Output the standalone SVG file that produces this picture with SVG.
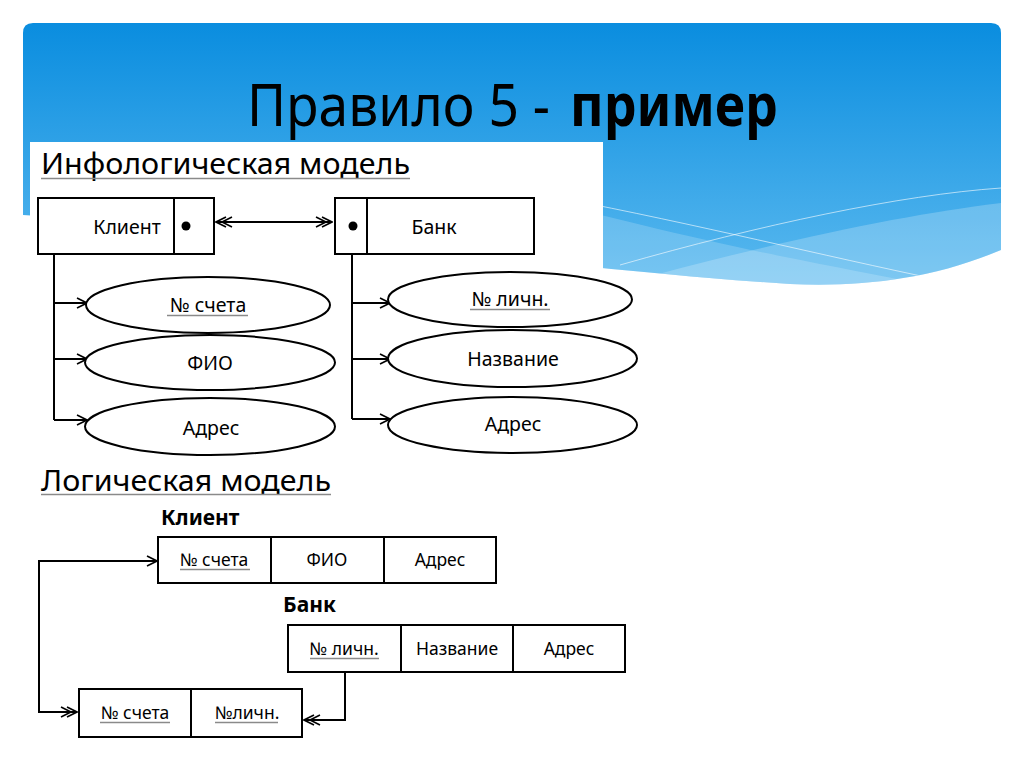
<svg xmlns="http://www.w3.org/2000/svg" width="1024" height="767" viewBox="0 0 1024 767">
<style>
.t{font-family:"Noto Sans","DejaVu Sans",sans-serif;fill:#000}
.d{font-family:"Noto Sans","DejaVu Sans",sans-serif;font-size:19.5px;fill:#000;text-anchor:middle}
.s{font-size:17.5px}
.b{font-family:"Noto Sans","DejaVu Sans",sans-serif;font-size:21px;font-weight:bold;fill:#000}
.box{fill:#fff;stroke:#000;stroke-width:2}
.ln{fill:none;stroke:#000;stroke-width:2}
.ul{stroke:#8a8a8a;stroke-width:1.3}
.el{fill:#fff;stroke:#000;stroke-width:2}
</style>
<defs>
<linearGradient id="bg" x1="0" y1="0" x2="0" y2="1">
<stop offset="0" stop-color="#0a8ddf"/>
<stop offset="1" stop-color="#5ab9ef"/>
</linearGradient>
<clipPath id="bc"><path d="M23,33 Q23,23 33,23 H991 Q1001,23 1001,33 V250 C930,280 860,287 790,284 C600,272 300,232 23,215 Z"/></clipPath>
<marker id="a1" markerUnits="userSpaceOnUse" viewBox="0 0 12 12" markerWidth="12" markerHeight="12" refX="11" refY="6" orient="auto-start-reverse">
<path d="M1,1 L11,6 L1,11" fill="none" stroke="#000" stroke-width="1.6"/>
</marker>
<marker id="a2" markerUnits="userSpaceOnUse" viewBox="0 0 18 12" markerWidth="18" markerHeight="12" refX="17" refY="6" orient="auto-start-reverse">
<path d="M1,1 L11,6 L1,11 M7,1 L17,6 L7,11" fill="none" stroke="#000" stroke-width="1.6"/>
</marker>
</defs>

<g id="background">
<rect x="0" y="0" width="1024" height="767" fill="#fff"/>
<path d="M23,33 Q23,23 33,23 H991 Q1001,23 1001,33 V250 C930,280 860,287 790,284 C600,272 300,232 23,215 Z" fill="url(#bg)"/>
<g clip-path="url(#bc)">
<path d="M500,190 C600,215 700,240 780,256 C860,272 930,285 1001,300 L1001,320 L500,320 Z" fill="#ffffff" opacity="0.18"/>
<path d="M600,290 C760,245 900,215 1001,203 L1001,320 L600,320 Z" fill="#ffffff" opacity="0.22"/>
<path d="M560,198 C700,225 820,255 940,280" fill="none" stroke="#ffffff" stroke-opacity="0.6" stroke-width="1"/>
<path d="M620,265 C760,225 900,195 1001,188" fill="none" stroke="#ffffff" stroke-opacity="0.6" stroke-width="1"/>
</g>
<rect x="30" y="142" width="573" height="200" fill="#fff"/>
</g>

<g id="title">
<text class="t" x="247" y="126" font-size="59" textLength="303" lengthAdjust="spacingAndGlyphs">Правило 5 -</text>
<text class="t" x="570" y="126" font-size="59" font-weight="bold" textLength="208" lengthAdjust="spacingAndGlyphs">пример</text>
</g>

<g id="subtitle-info">
<text class="t" x="41" y="174" font-size="29" textLength="369" lengthAdjust="spacingAndGlyphs">Инфологическая модель</text>
<line class="ul" x1="41" y1="178.5" x2="410" y2="178.5"/>
</g>

<g id="subtitle-logic">
<text class="t" x="41" y="491" font-size="29" textLength="290" lengthAdjust="spacingAndGlyphs">Логическая модель</text>
<line class="ul" x1="41" y1="494.5" x2="331" y2="494.5"/>
</g>

<g id="connectors">
<path class="ln" d="M216,222 H332" marker-start="url(#a2)" marker-end="url(#a2)"/>
<path class="ln" d="M54,254 V420"/>
<path class="ln" d="M54,303 H87" marker-end="url(#a1)"/>
<path class="ln" d="M54,359 H87" marker-end="url(#a1)"/>
<path class="ln" d="M54,420 H87" marker-end="url(#a1)"/>
<path class="ln" d="M352,254 V419"/>
<path class="ln" d="M352,303 H390" marker-end="url(#a1)"/>
<path class="ln" d="M352,359 H390" marker-end="url(#a1)"/>
<path class="ln" d="M352,419 H390" marker-end="url(#a1)"/>
<path class="ln" d="M157,561 H39 V712 H77" marker-start="url(#a1)" marker-end="url(#a2)"/>
<path class="ln" d="M345,673 V720 H304" marker-end="url(#a2)"/>
</g>

<g id="entity-client">
<rect class="box" x="38" y="198" width="176" height="56"/>
<line class="ln" x1="174" y1="198" x2="174" y2="254"/>
<circle cx="186" cy="226" r="4.5" fill="#000"/>
<text class="d" x="127" y="234">Клиент</text>
</g>

<g id="entity-bank">
<rect class="box" x="335" y="198" width="199" height="56"/>
<line class="ln" x1="367" y1="198" x2="367" y2="254"/>
<circle cx="353" cy="226" r="4.5" fill="#000"/>
<text class="d" x="434" y="234">Банк</text>
</g>

<g id="attr-client-acc">
<ellipse class="el" cx="208" cy="305" rx="122" ry="28"/>
<text class="d" x="208" y="312">№ счета</text>
<line class="ul" x1="167" y1="315.5" x2="248" y2="315.5"/>
</g>
<g id="attr-client-fio">
<ellipse class="el" cx="210" cy="362.5" rx="125" ry="27.5"/>
<text class="d" x="210" y="370">ФИО</text>
</g>
<g id="attr-client-addr">
<ellipse class="el" cx="210" cy="426.5" rx="125" ry="28.5"/>
<text class="d" x="211" y="435">Адрес</text>
</g>

<g id="attr-bank-id">
<ellipse class="el" cx="510" cy="299.5" rx="122" ry="27.5"/>
<text class="d" x="510" y="306">№ личн.</text>
<line class="ul" x1="470" y1="309.5" x2="550" y2="309.5"/>
</g>
<g id="attr-bank-name">
<ellipse class="el" cx="512.5" cy="358.5" rx="124.5" ry="28.5"/>
<text class="d" x="513" y="366">Название</text>
</g>
<g id="attr-bank-addr">
<ellipse class="el" cx="512.5" cy="425" rx="124.5" ry="28"/>
<text class="d" x="513" y="431">Адрес</text>
</g>

<g id="table-client">
<text class="b" x="161" y="525">Клиент</text>
<rect class="box" x="158" y="537" width="338" height="46"/>
<line class="ln" x1="271" y1="537" x2="271" y2="583"/>
<line class="ln" x1="384" y1="537" x2="384" y2="583"/>
<text class="d s" x="214" y="566">№ счета</text>
<line class="ul" x1="180" y1="569.5" x2="250" y2="569.5"/>
<text class="d s" x="327" y="566">ФИО</text>
<text class="d s" x="440" y="566">Адрес</text>
</g>

<g id="table-bank">
<text class="b" x="283" y="612">Банк</text>
<rect class="box" x="288" y="625" width="337" height="47"/>
<line class="ln" x1="401" y1="625" x2="401" y2="672"/>
<line class="ln" x1="513" y1="625" x2="513" y2="672"/>
<text class="d s" x="344" y="655">№ личн.</text>
<line class="ul" x1="310" y1="658.5" x2="379" y2="658.5"/>
<text class="d s" x="457" y="655">Название</text>
<text class="d s" x="569" y="655">Адрес</text>
</g>

<g id="table-link">
<rect class="box" x="79" y="689" width="223" height="48"/>
<line class="ln" x1="191" y1="689" x2="191" y2="737"/>
<text class="d s" x="135" y="719">№ счета</text>
<line class="ul" x1="100" y1="722.5" x2="170" y2="722.5"/>
<text class="d s" x="247" y="719">№личн.</text>
<line class="ul" x1="215" y1="722.5" x2="278" y2="722.5"/>
</g>
</svg>
